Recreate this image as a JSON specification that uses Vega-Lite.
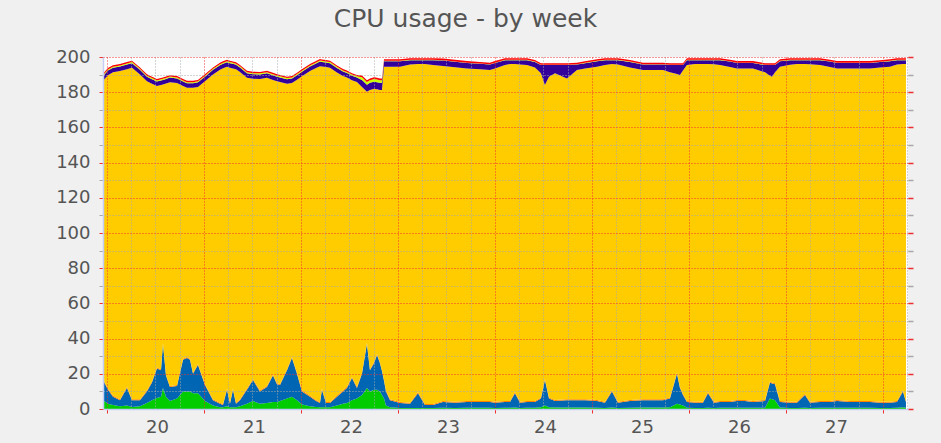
{
  "$schema": "https://vega.github.io/schema/vega-lite/v6.json",
  "width": 805,
  "height": 352,
  "autosize": {"type": "none"},
  "padding": {"left": 103, "top": 57, "right": 33, "bottom": 34},
  "background": "#f0f0f0",
  "title": {"text": "CPU usage - by week", "font": "DejaVu Sans", "fontSize": 25, "fontWeight": "normal", "color": "#555555", "anchor": "middle", "dx": -40, "offset": -4, "baseline": "alphabetic"},
  "config": {
    "view": {"fill": "white", "stroke": null},
    "axis": {"labelFont": "DejaVu Sans", "labelFontSize": 18, "labelColor": "#555555"}
  },
  "data": {"values": [
    {"t":19.959,"sys":5,"usr":11.5,"nice":0.6,"idle":169.4,"iow":2.6,"sirq":0.6,"steal":0.8},
    {"t":20.010,"sys":3,"usr":8,"nice":0.6,"idle":178.1,"iow":2.6,"sirq":0.6,"steal":0.8},
    {"t":20.062,"sys":2.3,"usr":4.7,"nice":0.6,"idle":183.7,"iow":2.6,"sirq":0.6,"steal":0.8},
    {"t":20.134,"sys":1.5,"usr":3.5,"nice":0.6,"idle":186.4,"iow":2.6,"sirq":0.6,"steal":0.8},
    {"t":20.206,"sys":2,"usr":10,"nice":0.6,"idle":180.5,"iow":2.6,"sirq":0.6,"steal":0.8},
    {"t":20.258,"sys":1.2,"usr":3.8,"nice":0.6,"idle":188.3,"iow":2.6,"sirq":0.6,"steal":0.8},
    {"t":20.340,"sys":1.5,"usr":3.5,"nice":0.6,"idle":184.5,"iow":2.6,"sirq":0.6,"steal":0.8},
    {"t":20.412,"sys":3.4,"usr":6.6,"nice":0.6,"idle":175.6,"iow":2.6,"sirq":0.6,"steal":0.8},
    {"t":20.464,"sys":5,"usr":10,"nice":0.6,"idle":169.2,"iow":2.6,"sirq":0.6,"steal":0.8},
    {"t":20.515,"sys":6.2,"usr":16.8,"nice":0.6,"idle":159.9,"iow":2.6,"sirq":0.6,"steal":0.8},
    {"t":20.557,"sys":7,"usr":15,"nice":0.6,"idle":161.5,"iow":2.6,"sirq":0.6,"steal":0.8},
    {"t":20.577,"sys":12,"usr":25,"nice":0.6,"idle":146.8,"iow":2.6,"sirq":0.6,"steal":0.8},
    {"t":20.608,"sys":7,"usr":12,"nice":0.6,"idle":165.3,"iow":2.6,"sirq":0.6,"steal":0.8},
    {"t":20.649,"sys":4.5,"usr":8,"nice":0.6,"idle":172.6,"iow":2.6,"sirq":0.6,"steal":0.8},
    {"t":20.722,"sys":6,"usr":7,"nice":0.6,"idle":171.6,"iow":2.6,"sirq":0.6,"steal":0.8},
    {"t":20.784,"sys":10,"usr":18,"nice":0.6,"idle":154.9,"iow":2.6,"sirq":0.6,"steal":0.8},
    {"t":20.825,"sys":10,"usr":19,"nice":0.6,"idle":152.9,"iow":2.6,"sirq":0.6,"steal":0.8},
    {"t":20.856,"sys":10,"usr":18,"nice":0.6,"idle":153.9,"iow":2.6,"sirq":0.6,"steal":0.8},
    {"t":20.887,"sys":9,"usr":11,"nice":0.6,"idle":161.9,"iow":2.6,"sirq":0.6,"steal":0.8},
    {"t":20.938,"sys":9,"usr":16,"nice":0.6,"idle":157.4,"iow":2.6,"sirq":0.6,"steal":0.8},
    {"t":21.010,"sys":4.5,"usr":9.1,"nice":0.6,"idle":172,"iow":2.6,"sirq":0.6,"steal":0.8},
    {"t":21.093,"sys":2,"usr":3,"nice":0.6,"idle":184.5,"iow":2.6,"sirq":0.6,"steal":0.8},
    {"t":21.165,"sys":1,"usr":2,"nice":0.6,"idle":189.1,"iow":2.6,"sirq":0.6,"steal":0.8},
    {"t":21.196,"sys":1,"usr":1.3,"nice":0.6,"idle":190.7,"iow":2.6,"sirq":0.6,"steal":0.8},
    {"t":21.237,"sys":1.5,"usr":9.5,"nice":0.6,"idle":182.8,"iow":2.6,"sirq":0.6,"steal":0.8},
    {"t":21.268,"sys":1,"usr":2,"nice":0.6,"idle":190.3,"iow":2.6,"sirq":0.6,"steal":0.8},
    {"t":21.299,"sys":1,"usr":10,"nice":0.6,"idle":181.9,"iow":2.6,"sirq":0.6,"steal":0.8},
    {"t":21.330,"sys":1,"usr":2,"nice":0.6,"idle":189.4,"iow":2.6,"sirq":0.6,"steal":0.8},
    {"t":21.371,"sys":1.5,"usr":3.5,"nice":0.6,"idle":185.9,"iow":2.6,"sirq":0.6,"steal":0.8},
    {"t":21.443,"sys":3,"usr":8,"nice":0.6,"idle":176.6,"iow":2.6,"sirq":0.6,"steal":0.8},
    {"t":21.505,"sys":4.5,"usr":12,"nice":0.6,"idle":170.5,"iow":2.6,"sirq":0.6,"steal":0.8},
    {"t":21.577,"sys":3,"usr":7,"nice":0.6,"idle":176.9,"iow":2.6,"sirq":0.6,"steal":0.8},
    {"t":21.649,"sys":3.4,"usr":9.1,"nice":0.6,"idle":175.1,"iow":2.6,"sirq":0.6,"steal":0.8},
    {"t":21.711,"sys":4,"usr":15,"nice":0.6,"idle":167.4,"iow":2.6,"sirq":0.6,"steal":0.8},
    {"t":21.753,"sys":4,"usr":10,"nice":0.6,"idle":171.6,"iow":2.6,"sirq":0.6,"steal":0.8},
    {"t":21.784,"sys":4.5,"usr":9.1,"nice":0.6,"idle":171.6,"iow":2.6,"sirq":0.6,"steal":0.8},
    {"t":21.856,"sys":6,"usr":16,"nice":0.6,"idle":162.2,"iow":2.6,"sirq":0.6,"steal":0.8},
    {"t":21.907,"sys":7,"usr":22,"nice":0.6,"idle":155.6,"iow":2.6,"sirq":0.6,"steal":0.8},
    {"t":21.959,"sys":5,"usr":15,"nice":0.6,"idle":166.5,"iow":2.6,"sirq":0.6,"steal":0.8},
    {"t":22.010,"sys":2.5,"usr":7.5,"nice":0.6,"idle":178.4,"iow":2.6,"sirq":0.6,"steal":0.8},
    {"t":22.093,"sys":1.5,"usr":5.5,"nice":0.6,"idle":184.4,"iow":2.6,"sirq":0.6,"steal":0.8},
    {"t":22.155,"sys":1.2,"usr":3.3,"nice":0.6,"idle":188.6,"iow":2.6,"sirq":0.6,"steal":0.8},
    {"t":22.196,"sys":1,"usr":2.4,"nice":0.6,"idle":190.8,"iow":2.6,"sirq":0.6,"steal":0.8},
    {"t":22.216,"sys":1,"usr":10,"nice":0.6,"idle":183,"iow":2.6,"sirq":0.6,"steal":0.8},
    {"t":22.258,"sys":1,"usr":2.4,"nice":0.6,"idle":190.3,"iow":2.6,"sirq":0.6,"steal":0.8},
    {"t":22.299,"sys":1,"usr":2.4,"nice":0.6,"idle":189.9,"iow":2.6,"sirq":0.6,"steal":0.8},
    {"t":22.371,"sys":2,"usr":5,"nice":0.6,"idle":183.6,"iow":2.6,"sirq":0.6,"steal":0.8},
    {"t":22.433,"sys":3,"usr":7,"nice":0.6,"idle":178.6,"iow":2.6,"sirq":0.6,"steal":0.8},
    {"t":22.474,"sys":3.4,"usr":8.6,"nice":0.6,"idle":175.7,"iow":2.6,"sirq":0.6,"steal":0.8},
    {"t":22.526,"sys":5,"usr":12.6,"nice":0.6,"idle":168.6,"iow":2.6,"sirq":0.6,"steal":0.8},
    {"t":22.577,"sys":6,"usr":6,"nice":0.6,"idle":173.2,"iow":2.6,"sirq":0.6,"steal":0.8},
    {"t":22.629,"sys":8,"usr":12,"nice":0.6,"idle":162.4,"iow":4,"sirq":1.5,"steal":1},
    {"t":22.680,"sys":12,"usr":25,"nice":0.6,"idle":142.7,"iow":4,"sirq":1.5,"steal":1},
    {"t":22.711,"sys":10,"usr":12,"nice":0.6,"idle":158.7,"iow":4,"sirq":1.5,"steal":1},
    {"t":22.753,"sys":11,"usr":15,"nice":0.6,"idle":155.4,"iow":4,"sirq":1.5,"steal":1},
    {"t":22.784,"sys":11,"usr":19.7,"nice":0.6,"idle":150.4,"iow":4,"sirq":1.5,"steal":1},
    {"t":22.814,"sys":10,"usr":16,"nice":0.6,"idle":154.7,"iow":4,"sirq":1.5,"steal":1},
    {"t":22.835,"sys":8,"usr":13.6,"nice":0.6,"idle":159.1,"iow":4,"sirq":1.5,"steal":1},
    {"t":22.856,"sys":6,"usr":10,"nice":0.6,"idle":177.9,"iow":3.1,"sirq":0.2,"steal":0.9},
    {"t":22.876,"sys":2,"usr":8,"nice":0.6,"idle":183.9,"iow":3.1,"sirq":0.2,"steal":0.9},
    {"t":22.918,"sys":1,"usr":4,"nice":0.6,"idle":188.9,"iow":3.1,"sirq":0.2,"steal":0.9},
    {"t":23.021,"sys":0.6,"usr":2.8,"nice":0.6,"idle":190.5,"iow":3.1,"sirq":0.2,"steal":0.9},
    {"t":23.124,"sys":0.6,"usr":2.4,"nice":0.6,"idle":192.1,"iow":2.5,"sirq":0.2,"steal":0.9},
    {"t":23.206,"sys":0.6,"usr":8.4,"nice":0.6,"idle":186.4,"iow":2.2,"sirq":0.2,"steal":0.9},
    {"t":23.278,"sys":0.5,"usr":1.8,"nice":0.6,"idle":193.1,"iow":2.2,"sirq":0.2,"steal":0.9},
    {"t":23.361,"sys":0.5,"usr":1.8,"nice":0.6,"idle":192.5,"iow":2.8,"sirq":0.2,"steal":0.9},
    {"t":23.464,"sys":0.7,"usr":3.3,"nice":0.6,"idle":190.3,"iow":3.1,"sirq":0.2,"steal":0.9},
    {"t":23.588,"sys":0.6,"usr":2.9,"nice":0.6,"idle":190.1,"iow":3.1,"sirq":0.2,"steal":0.9},
    {"t":23.711,"sys":0.7,"usr":3.3,"nice":0.6,"idle":188.9,"iow":3.1,"sirq":0.2,"steal":0.9},
    {"t":23.845,"sys":0.7,"usr":3.3,"nice":0.6,"idle":188.4,"iow":3.1,"sirq":0.2,"steal":0.9},
    {"t":23.948,"sys":0.7,"usr":3.3,"nice":0.6,"idle":188,"iow":3.1,"sirq":0.2,"steal":0.9},
    {"t":24.000,"sys":0.6,"usr":2.9,"nice":0.6,"idle":189.4,"iow":3.1,"sirq":0.2,"steal":0.9},
    {"t":24.103,"sys":0.7,"usr":3.3,"nice":0.6,"idle":190.9,"iow":2.7,"sirq":0.2,"steal":0.9},
    {"t":24.155,"sys":0.7,"usr":3.3,"nice":0.6,"idle":191.4,"iow":2.2,"sirq":0.2,"steal":0.9},
    {"t":24.206,"sys":0.8,"usr":8.2,"nice":0.6,"idle":186.4,"iow":2.2,"sirq":0.2,"steal":0.9},
    {"t":24.258,"sys":0.6,"usr":2.9,"nice":0.6,"idle":191.7,"iow":2.4,"sirq":0.2,"steal":0.9},
    {"t":24.330,"sys":0.7,"usr":3.3,"nice":0.6,"idle":190.8,"iow":2.8,"sirq":0.2,"steal":0.9},
    {"t":24.412,"sys":0.7,"usr":3.3,"nice":0.6,"idle":189.5,"iow":3.1,"sirq":0.2,"steal":0.9},
    {"t":24.474,"sys":1,"usr":5,"nice":0.6,"idle":184.2,"iow":4.6,"sirq":0.2,"steal":0.9},
    {"t":24.515,"sys":2,"usr":14.5,"nice":0.6,"idle":167,"iow":11.3,"sirq":0.2,"steal":0.9},
    {"t":24.557,"sys":1,"usr":5,"nice":0.6,"idle":182.2,"iow":6.6,"sirq":0.2,"steal":0.9},
    {"t":24.619,"sys":0.8,"usr":3.7,"nice":0.6,"idle":185.7,"iow":4.6,"sirq":0.2,"steal":0.9},
    {"t":24.742,"sys":0.8,"usr":4.2,"nice":0.6,"idle":182.2,"iow":7.6,"sirq":0.2,"steal":0.9},
    {"t":24.845,"sys":0.8,"usr":4.2,"nice":0.6,"idle":187,"iow":3.1,"sirq":0.2,"steal":0.9},
    {"t":24.928,"sys":0.8,"usr":4.2,"nice":0.6,"idle":187.8,"iow":3.1,"sirq":0.2,"steal":0.9},
    {"t":25.052,"sys":0.7,"usr":3.8,"nice":0.6,"idle":189.4,"iow":3.1,"sirq":0.2,"steal":0.9},
    {"t":25.134,"sys":0.6,"usr":2.9,"nice":0.6,"idle":191.3,"iow":2.8,"sirq":0.2,"steal":0.9},
    {"t":25.206,"sys":0.8,"usr":9.2,"nice":0.6,"idle":185.4,"iow":2.2,"sirq":0.2,"steal":0.9},
    {"t":25.268,"sys":0.6,"usr":2.9,"nice":0.6,"idle":191.6,"iow":2.5,"sirq":0.2,"steal":0.9},
    {"t":25.392,"sys":0.7,"usr":3.8,"nice":0.6,"idle":189,"iow":3.1,"sirq":0.2,"steal":0.9},
    {"t":25.526,"sys":0.8,"usr":4.2,"nice":0.6,"idle":187,"iow":3.1,"sirq":0.2,"steal":0.9},
    {"t":25.649,"sys":0.8,"usr":4.2,"nice":0.6,"idle":187,"iow":3.1,"sirq":0.2,"steal":0.9},
    {"t":25.732,"sys":0.8,"usr":4.2,"nice":0.6,"idle":187,"iow":3.1,"sirq":0.2,"steal":0.9},
    {"t":25.804,"sys":1,"usr":5,"nice":0.6,"idle":184.8,"iow":4,"sirq":0.2,"steal":0.9},
    {"t":25.876,"sys":3,"usr":17,"nice":0.6,"idle":169.7,"iow":5.1,"sirq":0.2,"steal":0.9},
    {"t":25.907,"sys":2.5,"usr":9.5,"nice":0.6,"idle":177.2,"iow":5.6,"sirq":0.2,"steal":0.9},
    {"t":25.938,"sys":2,"usr":6,"nice":0.6,"idle":183.7,"iow":3.1,"sirq":0.2,"steal":0.9},
    {"t":25.979,"sys":0.7,"usr":3.3,"nice":0.6,"idle":190.8,"iow":2.8,"sirq":0.2,"steal":0.9},
    {"t":26.062,"sys":0.6,"usr":2.9,"nice":0.6,"idle":191.9,"iow":2.2,"sirq":0.2,"steal":0.9},
    {"t":26.144,"sys":0.6,"usr":2.9,"nice":0.6,"idle":191.9,"iow":2.2,"sirq":0.2,"steal":0.9},
    {"t":26.196,"sys":0.7,"usr":8.3,"nice":0.6,"idle":186.4,"iow":2.2,"sirq":0.2,"steal":0.9},
    {"t":26.258,"sys":0.6,"usr":2.9,"nice":0.6,"idle":191.8,"iow":2.3,"sirq":0.2,"steal":0.9},
    {"t":26.320,"sys":0.7,"usr":3.3,"nice":0.6,"idle":190.8,"iow":2.8,"sirq":0.2,"steal":0.9},
    {"t":26.423,"sys":0.7,"usr":3.3,"nice":0.6,"idle":189.7,"iow":3.1,"sirq":0.2,"steal":0.9},
    {"t":26.495,"sys":0.7,"usr":3.8,"nice":0.6,"idle":188.4,"iow":3.1,"sirq":0.2,"steal":0.9},
    {"t":26.577,"sys":0.7,"usr":3.8,"nice":0.6,"idle":188.4,"iow":3.1,"sirq":0.2,"steal":0.9},
    {"t":26.660,"sys":0.7,"usr":3.3,"nice":0.6,"idle":188.9,"iow":3.1,"sirq":0.2,"steal":0.9},
    {"t":26.784,"sys":0.7,"usr":3.8,"nice":0.6,"idle":186.2,"iow":4.1,"sirq":0.2,"steal":0.9},
    {"t":26.835,"sys":6,"usr":9,"nice":0.6,"idle":173.7,"iow":6.1,"sirq":0.2,"steal":0.9},
    {"t":26.856,"sys":5.5,"usr":9,"nice":0.6,"idle":173.7,"iow":6.6,"sirq":0.2,"steal":0.9},
    {"t":26.887,"sys":5,"usr":9,"nice":0.6,"idle":176.7,"iow":4.1,"sirq":0.2,"steal":0.9},
    {"t":26.938,"sys":0.8,"usr":3.2,"nice":0.6,"idle":189.9,"iow":3.1,"sirq":0.2,"steal":0.9},
    {"t":27.041,"sys":0.6,"usr":2.9,"nice":0.6,"idle":191.5,"iow":2.6,"sirq":0.2,"steal":0.9},
    {"t":27.113,"sys":0.6,"usr":2.9,"nice":0.6,"idle":191.9,"iow":2.2,"sirq":0.2,"steal":0.9},
    {"t":27.196,"sys":0.7,"usr":7.3,"nice":0.6,"idle":187.4,"iow":2.2,"sirq":0.2,"steal":0.9},
    {"t":27.247,"sys":0.6,"usr":2.9,"nice":0.6,"idle":191.8,"iow":2.3,"sirq":0.2,"steal":0.9},
    {"t":27.351,"sys":0.7,"usr":3.3,"nice":0.6,"idle":190.8,"iow":2.8,"sirq":0.2,"steal":0.9},
    {"t":27.454,"sys":0.7,"usr":3.3,"nice":0.6,"idle":189.7,"iow":3.1,"sirq":0.2,"steal":0.9},
    {"t":27.526,"sys":0.7,"usr":3.8,"nice":0.6,"idle":188.4,"iow":3.1,"sirq":0.2,"steal":0.9},
    {"t":27.660,"sys":0.7,"usr":3.3,"nice":0.6,"idle":188.9,"iow":3.1,"sirq":0.2,"steal":0.9},
    {"t":27.763,"sys":0.7,"usr":3.3,"nice":0.6,"idle":188.9,"iow":3.1,"sirq":0.2,"steal":0.9},
    {"t":27.866,"sys":0.7,"usr":3.3,"nice":0.6,"idle":188.9,"iow":3.1,"sirq":0.2,"steal":0.9},
    {"t":27.969,"sys":0.6,"usr":2.9,"nice":0.6,"idle":189.9,"iow":3.1,"sirq":0.2,"steal":0.9},
    {"t":28.072,"sys":0.6,"usr":2.9,"nice":0.6,"idle":190.4,"iow":3.1,"sirq":0.2,"steal":0.9},
    {"t":28.144,"sys":0.7,"usr":3.3,"nice":0.6,"idle":191.1,"iow":2.5,"sirq":0.2,"steal":0.9},
    {"t":28.206,"sys":1,"usr":9,"nice":0.6,"idle":185.4,"iow":2.2,"sirq":0.2,"steal":0.9},
    {"t":28.237,"sys":0.7,"usr":3.3,"nice":0.6,"idle":191.4,"iow":2.2,"sirq":0.2,"steal":0.9}
  ]},
  "layer": [
    {
      "transform": [
        {"fold": ["sys", "usr", "nice", "idle", "iow", "sirq", "steal"], "as": ["k", "v"]},
        {"calculate": "indexof(['sys','usr','nice','idle','iow','sirq','steal'], datum.k)", "as": "o"}
      ],
      "mark": {"type": "area", "interpolate": "linear"},
      "encoding": {
        "x": {"field": "t", "type": "quantitative",
          "scale": {"domain": [19.959, 28.258], "nice": false, "zero": false},
          "axis": {"orient": "bottom", "title": null, "zindex": 2,
            "values": [20,20.25,20.5,20.75,21,21.25,21.5,21.75,22,22.25,22.5,22.75,23,23.25,23.5,23.75,24,24.25,24.5,24.75,25,25.25,25.5,25.75,26,26.25,26.5,26.75,27,27.25,27.5,27.75,28,28.25],
            "labelExpr": "(datum.value % 1 === 0 && datum.value < 28) ? datum.value : ''",
            "labelOffset": 50, "labelPadding": 5, "labelFlush": false, "labelOverlap": false,
            "grid": true,
            "gridColor": {"condition": {"test": "datum.value % 1 === 0", "value": "#ee3030"}, "value": "#a8a8a8"},
            "gridDash": [1, 2], "gridWidth": 1,
            "ticks": true, "tickSize": 4,
            "tickColor": {"condition": {"test": "datum.value % 1 === 0", "value": "#ee3030"}, "value": "transparent"},
            "domain": true, "domainColor": "#c6cdf5", "domainWidth": 1.5}
        },
        "y": {"field": "v", "type": "quantitative", "stack": "zero",
          "scale": {"domain": [0, 200], "nice": false},
          "axis": {"orient": "left", "title": null, "zindex": 2,
            "values": [0,10,20,30,40,50,60,70,80,90,100,110,120,130,140,150,160,170,180,190,200],
            "labelExpr": "datum.value % 20 === 0 ? datum.value : ''",
            "labelPadding": 9, "labelOverlap": false,
            "grid": true,
            "gridColor": {"condition": {"test": "datum.value % 20 === 0", "value": "#ee3030"}, "value": "#a8a8a8"},
            "gridDash": [1, 2], "gridWidth": 1,
            "ticks": true, "tickSize": 4,
            "tickColor": {"condition": {"test": "datum.value % 20 === 0", "value": "#ee3030"}, "value": "#a8a8a8"},
            "domain": true, "domainColor": "#c6cdf5", "domainWidth": 1.5}
        },
        "color": {"field": "k", "type": "nominal", "legend": null,
          "scale": {"domain": ["sys", "usr", "nice", "idle", "iow", "sirq", "steal"],
                    "range": ["#00CC00", "#0066B3", "#FF8000", "#FFCC00", "#330099", "#CCFF00", "#FF0000"]}},
        "order": {"field": "o", "type": "quantitative"}
      }
    },
    {
      "mark": {"type": "point", "opacity": 0},
      "encoding": {
        "x": {"field": "t", "type": "quantitative", "axis": null},
        "y": {"field": "idle", "type": "quantitative",
          "axis": {"orient": "right", "title": null, "labels": false, "grid": false, "domain": false,
            "values": [0,10,20,30,40,50,60,70,80,90,100,110,120,130,140,150,160,170,180,190,200],
            "ticks": true, "tickSize": 5, "tickWidth": 1.5,
            "tickColor": {"condition": {"test": "datum.value % 20 === 0", "value": "#ee3030"}, "value": "#a8a8a8"}}}
      }
    }
  ],
  "resolve": {"axis": {"x": "independent", "y": "independent"}}
}
